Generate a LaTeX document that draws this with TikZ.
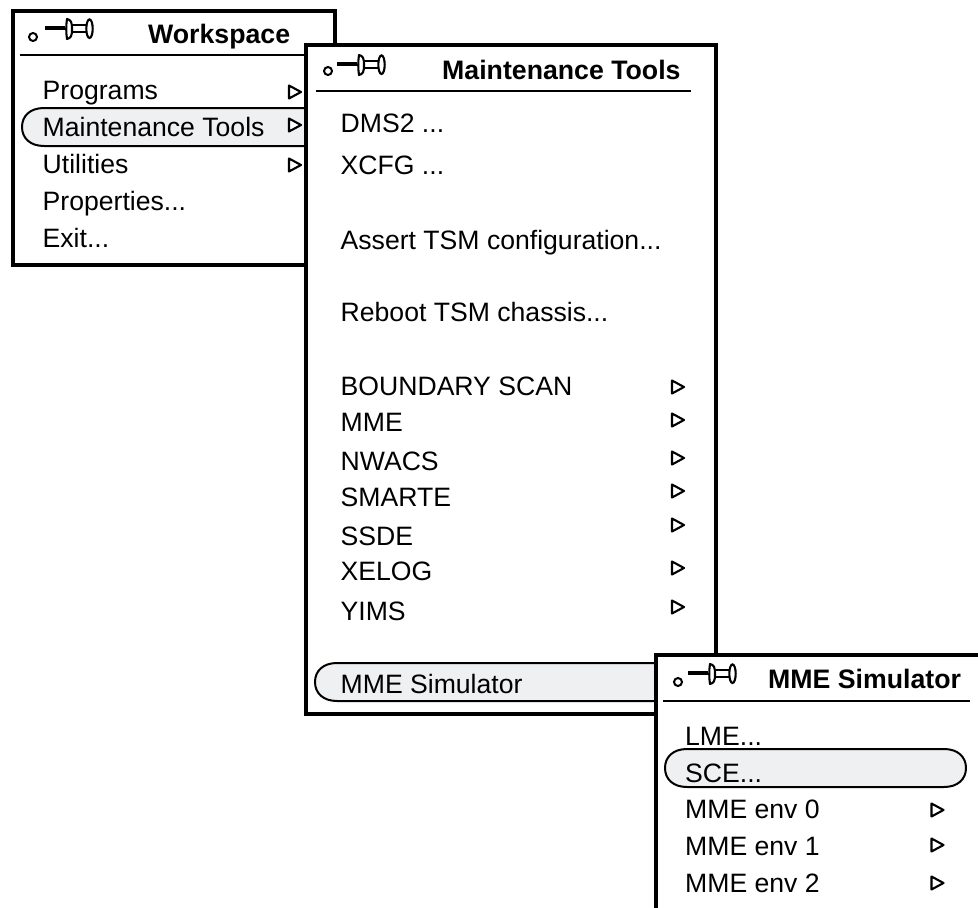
\documentclass[tikz,border=0pt]{standalone}
\usepackage{fontspec}
\setmainfont{Liberation Sans}
\definecolor{pill}{HTML}{EFF0F2}
\tikzset{
  x=1pt,y=-1pt,
  win/.style={draw=black,fill=white,line width=3.8pt,line join=miter},
  sep/.style={draw=black,line width=2pt},
  hl/.style={draw=black,fill=pill,line width=2pt},
  item/.style={anchor=base west,inner sep=0pt,font=\fontsize{26.6}{30}\selectfont},
  ttl/.style={anchor=base west,inner sep=0pt,font=\fontsize{26.7}{30}\selectfont\bfseries},
  tri/.style={draw=black,fill=white,line width=2.1pt,line join=round},
  eyelet/.style={draw=black,line width=2pt},
  pin/.pic={
    \draw[black,line width=3.4pt] (9,-7) -- (29,-7);
    \draw[black,line width=2.1pt] (35,-10) -- (52,-10) (35,-3) -- (52,-3);
    \draw[black,fill=white,line width=2.1pt,line join=round] (31,-16) .. controls (35,-15) and (36,-13) .. (36,-6) .. controls (36,1) and (35,3) .. (31,4) .. controls (30,-2) and (30,-10) .. (31,-16) -- cycle;
    \draw[black,fill=white,line width=2.1pt] (53.5,-6.3) ellipse (3.2 and 9.3);
  },
}
\newcommand{\arrowmark}[2]{\draw[tri] (#1,#2-6.5) -- (#1+12,#2) -- (#1,#2+6.5) -- cycle;}
\begin{document}
\begin{tikzpicture}
\useasboundingbox (0,0) rectangle (978,908);
\clip (0,0) rectangle (978,908);
\fill[white] (0,0) rectangle (978,908);

% Workspace menu
\draw[win] (13,11) rectangle (335,265);
\draw[eyelet] (33,37) circle (4);
\pic at (36,35) {pin};
\node[ttl] (wt) at (148,43) {Workspace};
\draw[sep] (20,55) -- (306,55);
\draw[hl] (306,108) -- (44,108) .. controls (30,108) and (22,116) .. (22,127) .. controls (22,138) and (30,146) .. (44,146) -- (306,146);
\node[item] (w1) at (42.5,99) {Programs};
\node[item] (w2) at (42.5,136) {Maintenance Tools};
\node[item] (w3) at (42.5,173) {Utilities};
\node[item] (w4) at (42.5,210) {Properties...};
\node[item] (w5) at (42.5,247) {Exit...};
\arrowmark{289}{92}
\arrowmark{289}{125}
\arrowmark{289}{165}

% Maintenance Tools menu
\draw[win] (306,45) rectangle (716,714);
\draw[eyelet] (328,71) circle (4);
\pic at (328,71) {pin};
\node[ttl] (mt) at (442,79) {Maintenance Tools};
\draw[sep] (316,91) -- (691,91);
\node[item] (m1) at (340.5,132) {DMS2 ...};
\node[item] (m2) at (340.5,174) {XCFG ...};
\node[item] (m3) at (340.5,249) {Assert TSM configuration...};
\node[item] (m4) at (340.5,321) {Reboot TSM chassis...};
\node[item] (m5) at (340.5,395) {BOUNDARY SCAN};
\node[item] (m6) at (340.5,431) {MME};
\node[item] (m7) at (340.5,470) {NWACS};
\node[item] (m8) at (340.5,506) {SMARTE};
\node[item] (m9) at (340.5,545) {SSDE};
\node[item] (m10) at (340.5,580) {XELOG};
\node[item] (m11) at (340.5,620) {YIMS};
\foreach \yy in {387,420,458,491,525,568,607} {\arrowmark{672}{\yy}}
\draw[hl] (660,663) -- (337,663) .. controls (323,663) and (315,671) .. (315,682) .. controls (315,693) and (323,701) .. (337,701) -- (660,701);
\node[item] (m12) at (340.5,693) {MME Simulator};

% MME Simulator menu
\draw[win] (656,655) rectangle (990,920);
\draw[eyelet] (678,682) circle (4);
\pic at (679,680) {pin};
\node[ttl] (st) at (768,688) {MME Simulator};
\draw[sep] (663,701) -- (970,701);
\node[item] (s1) at (685,745) {LME...};
\draw[hl] (687,749) .. controls (673,749) and (665,757) .. (665,768) .. controls (665,779) and (673,787) .. (687,787) -- (944,787) .. controls (958,787) and (966,779) .. (966,768) .. controls (966,757) and (958,749) .. (944,749) -- cycle;
\node[item] (s2) at (685,782) {SCE...};
\node[item] (s3) at (685,818) {MME env 0};
\node[item] (s4) at (685,855) {MME env 1};
\node[item] (s5) at (685,892) {MME env 2};
\arrowmark{931.5}{810}
\arrowmark{931.5}{845}
\arrowmark{931.5}{883}
\end{tikzpicture}
\end{document}
